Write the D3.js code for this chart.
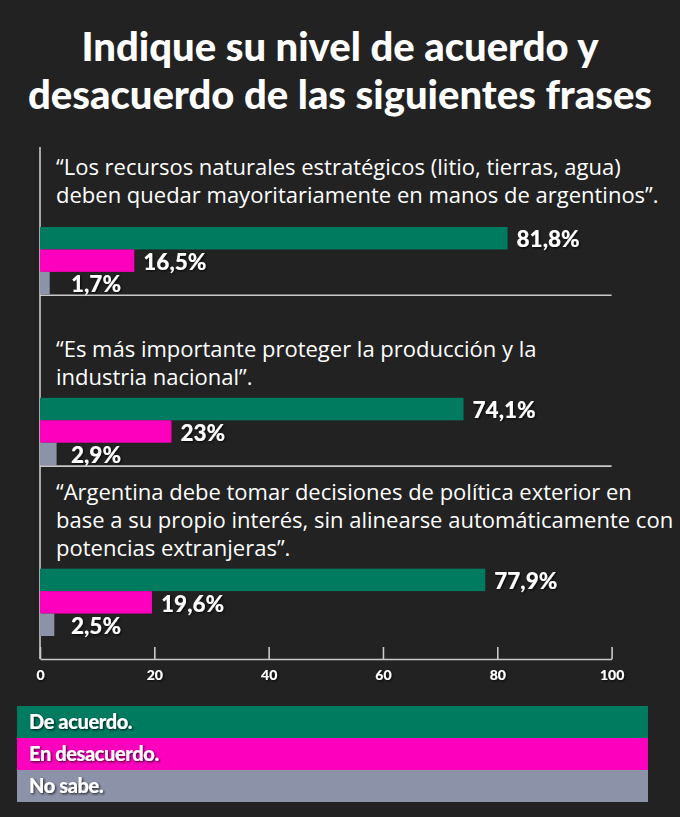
<!DOCTYPE html>
<html>
<head>
<meta charset="utf-8">
<script src="https://cdn.jsdelivr.net/npm/d3@7"></script>
<style>
  html, body { margin: 0; padding: 0; background: #222222; }
  svg { display: block; }
</style>
</head>
<body>
<div id="chart"></div>
<script>
// data
const titleLines = ["Indique su nivel de acuerdo y", "desacuerdo de las siguientes frases"];
const statements = [
  ["“Los recursos naturales estratégicos (litio, tierras, agua)", "deben quedar mayoritariamente en manos de argentinos”."],
  ["“Es más importante proteger la producción y la", "industria nacional”."],
  ["“Argentina debe tomar decisiones de política exterior en", "base a su propio interés, sin alinearse automáticamente con", "potencias extranjeras”."]
];
const series = ["De acuerdo.", "En desacuerdo.", "No sabe."];
const deAcuerdo = [81.8, 74.1, 77.9];
const enDesacuerdo = [16.5, 23, 19.6];
const noSabe = [1.7, 2.9, 2.5];
const xTicks = [0, 20, 40, 60, 80, 100];

const colors = ["#007b5f", "#fc00bd", "#8c93a8"];
const values = [deAcuerdo, enDesacuerdo, noSabe];

const width = 680, height = 817;
const fontFam = "Lato, 'Open Sans', sans-serif";
const textFam = "'Open Sans', Lato, sans-serif";

const svg = d3.select("#chart").append("svg")
  .attr("width", width)
  .attr("height", height)
  .style("background", "#222222");

// soft dark shadow behind the white bold labels
const defs = svg.append("defs");
defs.append("filter").attr("id", "shadow")
  .attr("x", "-10%").attr("y", "-20%").attr("width", "130%").attr("height", "150%")
  .append("feDropShadow")
  .attr("dx", 1.2).attr("dy", 1.2).attr("stdDeviation", 0.8)
  .attr("flood-color", "#000").attr("flood-opacity", 0.75);

// title
svg.append("g").selectAll("text")
  .data(titleLines)
  .join("text")
  .attr("x", 340)
  .attr("y", (d, i) => 61 + i * 48)
  .attr("text-anchor", "middle")
  .attr("fill", "#ffffff")
  .attr("font-family", fontFam)
  .attr("font-weight", 900)
  .attr("font-size", 40)
  .text(d => d);

// scales
const x = d3.scaleLinear().domain([0, 100]).range([40, 611.6]);
const groups = d3.range(statements.length);
const y = d3.scaleBand().domain(groups).range([227, 636]).paddingInner(0.606);
const ySub = d3.scaleBand().domain(d3.range(series.length)).range([0, y.bandwidth()]);

const fmt = d3.formatLocale({ decimal: ",", thousands: ".", grouping: [3], currency: ["$", ""] }).format(".1~f");

const chart = svg.append("g");

// vertical axis line at 0
chart.append("line")
  .attr("x1", x(0)).attr("x2", x(0))
  .attr("y1", 147).attr("y2", 659)
  .attr("stroke", "#c9c9c9").attr("stroke-width", 1.6);

groups.forEach(g => {
  const top = y(g);
  const lines = statements[g];
  const gap = g === 0 ? 24 : 13;
  // statement text, stacked upward from the bars
  chart.append("g").selectAll("text")
    .data(lines)
    .join("text")
    .attr("x", 56)
    .attr("y", (d, i) => top - gap - (lines.length - 1 - i) * 28)
    .attr("fill", "#ffffff")
    .attr("font-family", textFam)
    .attr("font-size", 22)
    .text(d => d);

  const rows = series.map((s, k) => ({ k, v: values[k][g] }));

  chart.append("g").selectAll("rect")
    .data(rows)
    .join("rect")
    .attr("x", x(0))
    .attr("y", d => top + ySub(d.k))
    .attr("width", d => x(d.v) - x(0))
    .attr("height", ySub.bandwidth())
    .attr("fill", d => colors[d.k]);

  chart.append("g").selectAll("text")
    .data(rows)
    .join("text")
    .attr("x", d => Math.max(x(d.v) + 9, x(0) + 31))
    .attr("y", d => top + ySub(d.k) + ySub.bandwidth() - 2)
    .attr("fill", "#ffffff")
    .attr("font-family", fontFam)
    .attr("font-weight", 900)
    .attr("font-size", 22.5)
    .attr("filter", "url(#shadow)")
    .text(d => fmt(d.v) + "%");

  // separator under the group (last group sits on the axis)
  if (g < groups.length - 1) {
    chart.append("line")
      .attr("x1", x(0)).attr("x2", x(100))
      .attr("y1", top + y.bandwidth() + 1).attr("y2", top + y.bandwidth() + 1)
      .attr("stroke", "#c9c9c9").attr("stroke-width", 1.6);
  }
});

// x axis
const axis = chart.append("g")
  .attr("transform", "translate(0,659)")
  .call(d3.axisBottom(x).tickValues(xTicks).tickSizeInner(-12).tickSizeOuter(0).tickPadding(11));
axis.select(".domain").attr("stroke", "#c9c9c9").attr("stroke-width", 1.6);
axis.selectAll(".tick line").attr("stroke", "#c9c9c9").attr("stroke-width", 1.6);
axis.selectAll(".tick text")
  .attr("fill", "#ffffff")
  .attr("font-family", fontFam)
  .attr("font-weight", 900)
  .attr("font-size", 14)
  .attr("filter", "url(#shadow)");

// legend
const yLeg = d3.scaleBand().domain(d3.range(series.length)).range([706, 802]);
const legend = svg.append("g").selectAll("g")
  .data(series)
  .join("g")
  .attr("transform", (d, i) => `translate(17,${yLeg(i)})`);
legend.append("rect")
  .attr("width", 631)
  .attr("height", yLeg.bandwidth())
  .attr("fill", (d, i) => colors[i]);
legend.append("text")
  .attr("x", 12)
  .attr("y", yLeg.bandwidth() / 2 + 7)
  .attr("fill", "#ffffff")
  .attr("font-family", fontFam)
  .attr("font-weight", 900)
  .attr("font-size", 20)
  .attr("letter-spacing", -0.4)
  .attr("filter", "url(#shadow)")
  .text(d => d);
</script>
</body>
</html>
